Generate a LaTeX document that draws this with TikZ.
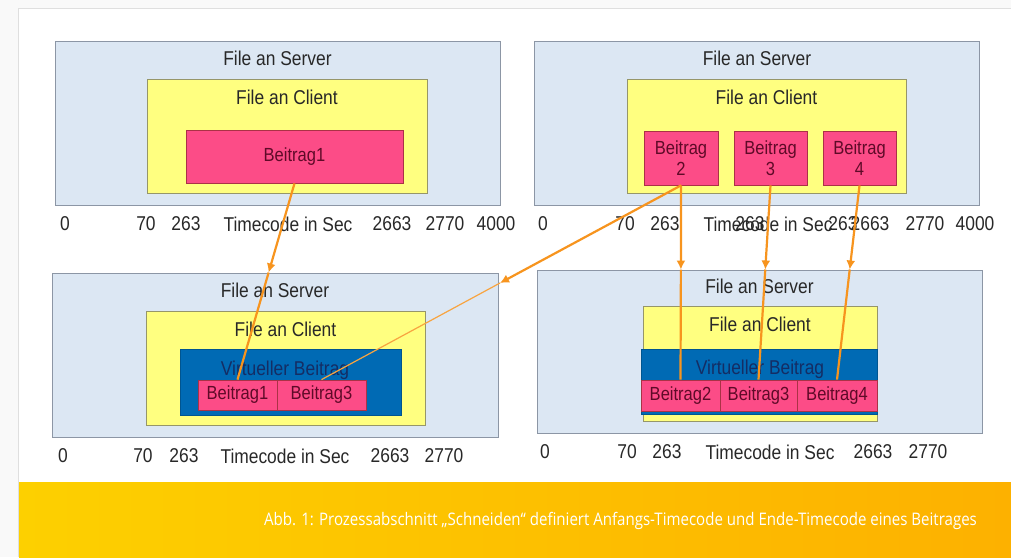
\documentclass[tikz,border=0pt]{standalone}
\usepackage{fontspec}
\setmainfont{Liberation Sans}[FakeStretch=0.87]
\newfontfamily\capfont{Open Sans}[FakeStretch=0.87]
\usepackage{xcolor}
\definecolor{serverblau}{RGB}{220, 231, 243}
\definecolor{servergrau}{RGB}{140, 150, 165}
\definecolor{clientgelb}{RGB}{255, 255, 128}
\definecolor{clientgrau}{RGB}{150, 150, 105}
\definecolor{beitragpink}{RGB}{252, 76, 135}
\definecolor{beitragrand}{RGB}{170, 50, 70}
\definecolor{beitragtext}{RGB}{95, 10, 40}
\definecolor{virtblau}{RGB}{0, 106, 180}
\definecolor{virttext}{RGB}{20, 45, 100}
\definecolor{titelgrau}{RGB}{40, 40, 40}
\definecolor{flussorange}{RGB}{247, 148, 30}
\definecolor{capgelbL}{RGB}{253, 208, 0}
\definecolor{capgelbR}{RGB}{253, 177, 0}
\usepackage{tikz}
\usetikzlibrary{arrows.meta, positioning, calc}

\begin{document}
\begin{tikzpicture}[x=1pt, y=-1pt,
        serverbox/.style={rectangle, draw=servergrau, fill=serverblau, line width=1pt, minimum width=445pt, minimum height=164pt, inner sep=0pt},
        clientbox/.style={rectangle, draw=clientgrau, fill=clientgelb, line width=1pt, minimum height=114pt, inner sep=0pt},
        virtbox/.style={rectangle, draw=virtblau!80!black, fill=virtblau, line width=0.8pt, inner sep=0pt},
        beitragbox/.style={rectangle, draw=beitragrand, fill=beitragpink, line width=0.8pt, inner sep=0pt, align=center, text=beitragtext, font=\fontsize{19}{21}\selectfont},
        boxtitel/.style={inner sep=0pt, text=titelgrau, font=\fontsize{20}{22}\selectfont},
        zeitlabel/.style={inner sep=0pt, text=titelgrau, font=\fontsize{20}{22}\selectfont},
        virtlabel/.style={inner sep=0pt, text=virttext, font=\fontsize{20}{22}\selectfont},
        flow/.style={draw=flussorange, line width=2.2pt, -{Latex[length=9pt, width=9pt]}},
        flowline/.style={draw=flussorange, line width=2.2pt}]

        % Hintergrund und Karte
        \useasboundingbox (0,0) rectangle (1011,557);
        \fill[gray!5] (0,0) rectangle (1011,557);
        \fill[white] (18,8) rectangle (1011,557);
        \draw[gray!25] (18,557) |- (1011,8);

        % Oben links: ein Beitrag
        \node [serverbox] (srvA) at (277.5,123) {};
        \node [boxtitel, below=10pt of srvA.north] (srvAt) {File an Server};
        \node [clientbox, minimum width=280pt] (cliA) at (287,136) {};
        \node [boxtitel, below=11pt of cliA.north] (cliAt) {File an Client};
        \node [beitragbox, minimum width=217pt, minimum height=53pt] (b1) at (294.5,156.5) {Beitrag1};
        \foreach \x/\t in {65/0, 146/70, 186/263, 288/Timecode in Sec, 392/2663, 445/2770, 496/4000}
            \node [zeitlabel] (tA-\x) at (\x,224) {\t};

        % Oben rechts: drei Beitraege
        \node [serverbox] (srvB) at (757,123) {};
        \node [boxtitel, below=10pt of srvB.north] (srvBt) {File an Server};
        \node [clientbox, minimum width=279pt] (cliB) at (766.5,136) {};
        \node [boxtitel, below=11pt of cliB.north] (cliBt) {File an Client};
        \node [beitragbox, minimum width=74pt, minimum height=54pt] (b2) at (681,158) {Beitrag\\2};
        \node [beitragbox, minimum width=73pt, minimum height=54pt] (b3) at (770.5,158) {Beitrag\\3};
        \node [beitragbox, minimum width=73pt, minimum height=54pt] (b4) at (859.5,158) {Beitrag\\4};
        \foreach \x/\t in {543/0, 625/70, 665/263, 768/Timecode in Sec, 750/263, 870/2663, 843/263, 925/2770, 975/4000}
            \node [zeitlabel] (tB-\x) at (\x,224) {\t};

        % Unten links: virtueller Beitrag aus 1 und 3
        \node [serverbox, minimum width=446pt] (srvC) at (275,355) {};
        \node [boxtitel, below=10pt of srvC.north] (srvCt) {File an Server};
        \node [clientbox, minimum width=279pt] (cliC) at (285.5,368) {};
        \node [boxtitel, below=11pt of cliC.north] (cliCt) {File an Client};
        \node [virtbox, minimum width=221pt, minimum height=66pt] (vC) at (290.5,382) {};
        \node [virtlabel] (vCt) at (285,370) {Virtueller Beitrag};
        \node [beitragbox, minimum width=79pt, minimum height=30pt] (b1C) at (237.5,395) {Beitrag1};
        \node [beitragbox, minimum width=89pt, minimum height=30pt] (b3C) at (321.5,395) {Beitrag3};
        \foreach \x/\t in {63/0, 143/70, 184/263, 285/Timecode in Sec, 390/2663, 444/2770}
            \node [zeitlabel] (tC-\x) at (\x,456) {\t};

        % Unten rechts: virtueller Beitrag aus 2, 3 und 4
        \node [serverbox, minimum height=163pt] (srvD) at (759.5,351.5) {};
        \node [boxtitel, below=9pt of srvD.north] (srvDt) {File an Server};
        \node [clientbox, minimum width=234pt, minimum height=115pt] (cliD) at (760,363.5) {};
        \node [boxtitel, below=11pt of cliD.north] (cliDt) {File an Client};
        \node [virtbox, minimum width=236pt, minimum height=65pt] (vD) at (759,381.5) {};
        \node [virtlabel] (vDt) at (760,369) {Virtueller Beitrag};
        \node [beitragbox, minimum width=79pt, minimum height=31pt] (b2D) at (680.5,395.5) {Beitrag2};
        \node [beitragbox, minimum width=77pt, minimum height=31pt] (b3D) at (758.5,395.5) {Beitrag3};
        \node [beitragbox, minimum width=80pt, minimum height=31pt] (b4D) at (837,395.5) {Beitrag4};
        \foreach \x/\t in {545/0, 627/70, 667/263, 770/Timecode in Sec, 873/2663, 928/2770}
            \node [zeitlabel] (tD-\x) at (\x,452) {\t};

        % Verbindungen (Pfeilspitze an der Serverkante)
        \coordinate (k1) at (intersection of b1.south--b1C.north and srvC.north west--srvC.north east);
        \coordinate (k2) at (intersection of b2.south--b2D.north and srvD.north west--srvD.north east);
        \coordinate (k3) at (intersection of b3.south--b3D.north and srvD.north west--srvD.north east);
        \coordinate (k4) at (intersection of b4.south--b4D.north and srvD.north west--srvD.north east);
        \coordinate (knick) at (500,283);
        \path [flow] (b1.south) -- (k1);
        \path [flowline] (k1) -- (b1C.north);
        \path [flow] (b2.south) -- (k2);
        \path [flowline] (k2) -- (b2D.north);
        \path [flow] (b3.south) -- (k3);
        \path [flowline] (k3) -- (b3D.north);
        \path [flow] (b4.south) -- (k4);
        \path [flowline] (k4) -- (b4D.north);
        \path [flow] (b2.south) -- (knick);
        \path [draw=flussorange!85, line width=1.2pt] (knick) -- (b3C.north);

        % Bildunterschrift
        \shade [left color=capgelbL, right color=capgelbR] (19,482) rectangle (1011,557);
        \node [anchor=east, inner sep=0pt, text=white, font=\capfont\fontsize{17.3}{19}\selectfont] (cap) at (977,521)
            {Abb. 1: Prozessabschnitt „Schneiden“ definiert Anfangs-Timecode und Ende-Timecode eines Beitrages};
    \end{tikzpicture}
\end{document}
